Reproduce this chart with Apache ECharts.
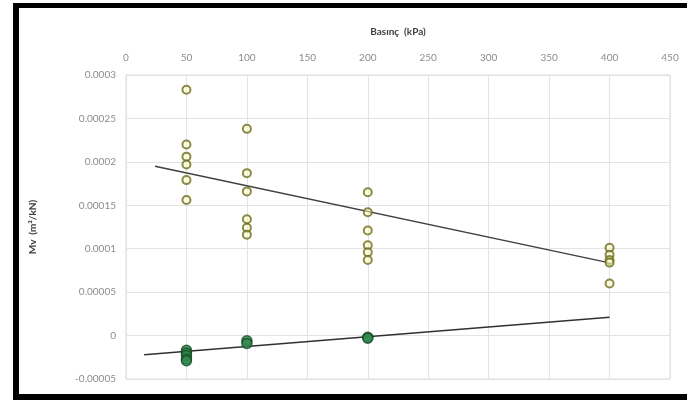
<!DOCTYPE html>
<html>
<head>
<meta charset="utf-8">
<script src="https://cdn.jsdelivr.net/npm/echarts@6/dist/echarts.min.js"></script>
<style>
    html, body { margin: 0; padding: 0; background: #fff; }
    #chart { width: 687px; height: 400px; }
</style>
</head>
<body>
<div id="chart"></div>
<script>
// x ticks (kPa) and y ticks (m2/kN)
var xTicks = [0, 50, 100, 150, 200, 250, 300, 350, 400, 450];
var yTicks = [-0.00005, 0, 0.00005, 0.0001, 0.00015, 0.0002, 0.00025, 0.0003];

// yellow hollow points
var upperPts = [
    [50, 0.000283], [50, 0.00022], [50, 0.000206], [50, 0.000197], [50, 0.000179], [50, 0.000156],
    [100, 0.000238], [100, 0.000187], [100, 0.000166], [100, 0.000134], [100, 0.000124], [100, 0.000116],
    [200, 0.000165], [200, 0.000142], [200, 0.000121], [200, 0.000104], [200, 0.000096], [200, 0.000087],
    [400, 0.000101], [400, 0.000093], [400, 0.000087], [400, 0.000084], [400, 0.00006]
];
// green filled points
var lowerPts = [
    [50, -0.000017], [50, -0.00002], [50, -0.000023], [50, -0.000027], [50, -0.000029],
    [100, -0.000006], [100, -0.000009],
    [200, -0.000002], [200, -0.000003]
];
// trend lines
var upperFit = [[24, 0.000195], [400, 0.0000837]];
var lowerFit = [[15, -0.000022], [400, 0.000021]];

function fmt(v) {
    return String(parseFloat(v.toFixed(6)));
}

var dom = document.getElementById("chart");
var myChart = echarts.init(dom);
var option = {
    animation: false,
    textStyle: { fontFamily: 'Lato' },
    grid: {
        left: 126,
        right: 17,
        top: 75,
        bottom: 21,
        show: true,
        borderColor: '#d9d9d9',
        borderWidth: 1
    },
    // black frame round the picture (left, top, bottom)
    graphic: [
        { type: 'rect', shape: { x: 13, y: 3, width: 674, height: 5 }, style: { fill: '#000' } },
        { type: 'rect', shape: { x: 13, y: 3, width: 6, height: 397 }, style: { fill: '#000' } },
        { type: 'rect', shape: { x: 13, y: 394, width: 674, height: 6 }, style: { fill: '#000' } }
    ],
    xAxis: {
        type: 'value',
        position: 'top',
        min: xTicks[0],
        max: xTicks[xTicks.length - 1],
        interval: 50,
        name: 'Basınç  (kPa)',
        nameLocation: 'middle',
        nameGap: 38,
        nameTextStyle: { fontSize: 10, fontWeight: 'bold', color: '#404040' },
        axisLine: { show: false },
        axisTick: { show: false },
        axisLabel: { fontSize: 10, color: '#8c8c8c', margin: 12 },
        splitLine: { lineStyle: { color: '#e3e3e3' } }
    },
    yAxis: {
        type: 'value',
        min: yTicks[0],
        max: yTicks[yTicks.length - 1],
        interval: 0.00005,
        name: 'Mv  (m²/kN)',
        nameLocation: 'middle',
        nameGap: 88,
        nameTextStyle: { fontSize: 10, fontWeight: 'bold', color: '#404040' },
        axisLine: { show: false },
        axisTick: { show: false },
        axisLabel: { fontSize: 10, color: '#8c8c8c', margin: 10, formatter: fmt },
        splitLine: { lineStyle: { color: '#e3e3e3' } }
    },
    series: [{
        type: 'line',
        data: upperFit,
        symbol: 'none',
        lineStyle: { color: '#404040', width: 1.5 },
        z: 2
    }, {
        type: 'line',
        data: lowerFit,
        symbol: 'none',
        lineStyle: { color: '#303030', width: 1.5 },
        z: 2
    }, {
        type: 'scatter',
        data: upperPts,
        symbol: 'circle',
        symbolSize: 8,
        itemStyle: {
            color: 'rgba(255,255,200,0.6)',
            borderColor: '#6e6e1c',
            borderWidth: 2
        },
        z: 3
    }, {
        type: 'scatter',
        data: lowerPts,
        symbol: 'circle',
        symbolSize: 10,
        itemStyle: {
            color: '#2f8a4c',
            borderColor: '#174a26',
            borderWidth: 1.5
        },
        z: 3
    }]
};
myChart.setOption(option, true);
window.onresize = myChart.resize;
</script>
</body>
</html>
